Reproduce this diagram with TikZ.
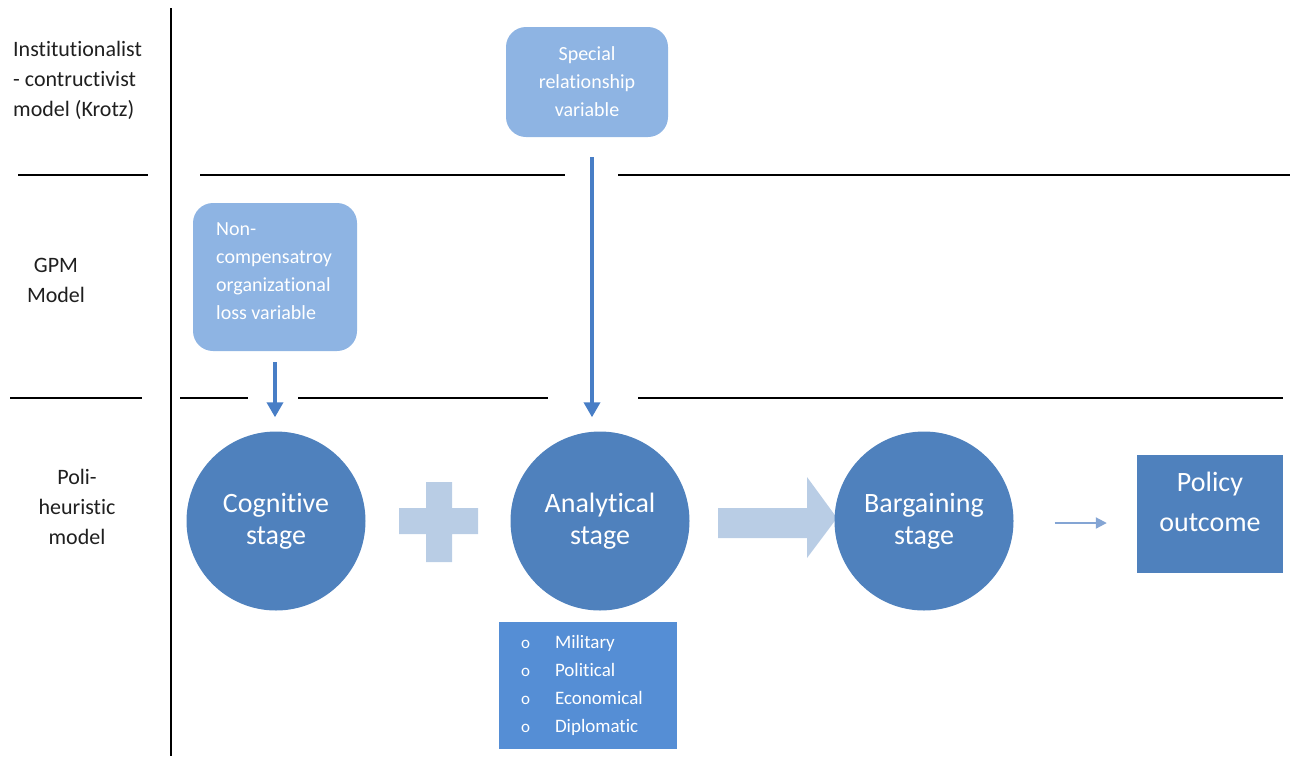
\documentclass[tikz,border=0pt]{standalone}
\usepackage{fontspec}
\setmainfont[Ligatures=NoCommon]{Carlito}
\usetikzlibrary{arrows.meta,positioning,calc}
\definecolor{stageBlue}{RGB}{79,129,189}
\definecolor{varBlue}{RGB}{142,180,227}
\definecolor{paleBlue}{RGB}{185,205,229}
\definecolor{listBlue}{RGB}{85,142,213}
\definecolor{arrowBlue}{RGB}{72,126,198}
\definecolor{thinBlue}{RGB}{132,165,212}

\begin{document}
\begin{tikzpicture}[x=1pt,y=-1pt,
        stage/.style={circle,fill=stageBlue,text=white,minimum size=179pt,inner sep=0pt,align=center,font=\fontsize{28}{32}\selectfont},
        varbox/.style={rounded corners=20pt,fill=varBlue,text=white,font=\fontsize{20}{28}\selectfont},
        side/.style={text=black!88,font=\fontsize{22}{30}\selectfont},
        sep/.style={line width=1.6pt},
        arrow/.style={-{Triangle[width=16pt,length=15pt]},line width=3.6pt,draw=arrowBlue},
        thin/.style={-{Triangle[width=11pt,length=11pt]},line width=2pt,draw=thinBlue}
      ]
        \useasboundingbox (0,0) rectangle (1290,756);

        \draw[sep] (171,8) -- (171,756);
        \draw[sep] (18,175) -- (148,175) (200,175) -- (565,175) (618,175) -- (1290,175);
        \draw[sep] (10,398) -- (142,398) (180,398) -- (248,398) (298,398) -- (548,398) (638,398) -- (1283,398);

        \node[side,anchor=west,align=left,inner xsep=0pt] (krotz) at (13,80) {Institutionalist\\- contructivist\\model (Krotz)};
        \node[side,align=center] (gpm) at (56,280) {GPM\\Model};
        \node[side,align=center] (poli) at (77,507) {Poli-\\heuristic\\model};

        \node[varbox,minimum width=162pt,minimum height=110pt,align=center] (special) at (587,82) {Special\\relationship\\variable};
        \node[varbox,minimum width=164pt,minimum height=148pt] (loss) at (275,277) {};
        \node[text=white,font=\fontsize{20}{28}\selectfont,anchor=west,align=left,inner xsep=0pt] (lossText) at (216,271) {Non-\\compensatroy\\organizational\\loss variable};

        \fill[paleBlue] (426,482) rectangle (452,562) (399,508) rectangle (478,534);
        \fill[paleBlue] (718,508) -- (807,508) -- (807,477) -- (837,518) -- (807,558) -- (807,538) -- (718,538) -- cycle;

        \node[stage] (cognitive) at (276,521) {Cognitive\\stage};
        \node[stage] (analytical) at (600,521) {Analytical\\stage};
        \node[stage] (bargaining) at (924,521) {Bargaining\\stage};

        \node[fill=stageBlue,minimum width=146pt,minimum height=118pt] (policy) at (1210,514) {};
        \node[text=white,align=center,font=\fontsize{28}{40}\selectfont] (policyText) at (1210,502) {Policy\\outcome};

        \node[fill=listBlue,text=white,minimum width=178pt,minimum height=127pt,inner xsep=22pt,text width=134pt,align=left,font=\fontsize{19}{28}\selectfont] (aspects) at (588,685.5)
          {\makebox[34pt][l]{\fontsize{17}{17}\selectfont o}Military\\
           \makebox[34pt][l]{\fontsize{17}{17}\selectfont o}Political\\
           \makebox[34pt][l]{\fontsize{17}{17}\selectfont o}Economical\\
           \makebox[34pt][l]{\fontsize{17}{17}\selectfont o}Diplomatic};

        \draw[arrow,shorten <=11pt,shorten >=14pt] (loss.south) -- (loss.south |- cognitive.north);
        \draw[arrow,shorten <=20pt,shorten >=14pt] ([xshift=5pt]special.south) -- ([xshift=5pt]special.south |- analytical.north);
        \draw[thin,shorten <=41pt,shorten >=30pt] ([yshift=-2pt]bargaining.east) -- ([yshift=-2pt]bargaining.east -| policy.west);
      \end{tikzpicture}
\end{document}
